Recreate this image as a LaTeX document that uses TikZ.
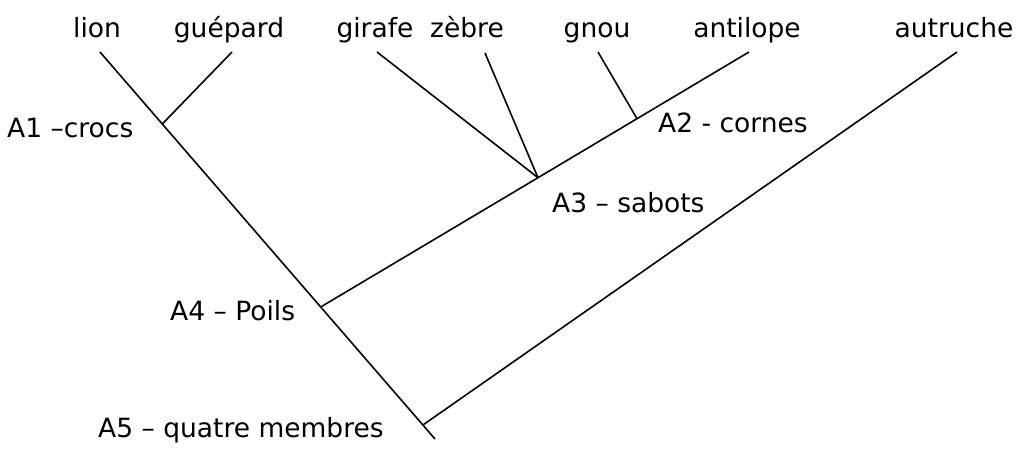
\documentclass[tikz,border=0pt]{standalone}
\usepackage{fontspec}
\setmainfont{DejaVu Sans}
\tikzset{
  taxon/.style={anchor=base, inner sep=0pt, font=\fontsize{26.5}{30}\selectfont},
  trait/.style={anchor=base west, inner sep=0pt, font=\fontsize{26.5}{30}\selectfont},
  branch/.style={line width=1.6pt}
}
\begin{document}
\begin{tikzpicture}[x=1pt,y=-1pt]
\useasboundingbox (0,0) rectangle (1034,448);
% taxa
\node[taxon] (lion) at (97,37){lion};
\node[taxon] (guepard) at (229,37){guépard};
\node[taxon] (girafe) at (375,37){girafe};
\node[taxon] (zebre) at (467,37){zèbre};
\node[taxon] (gnou) at (597,37){gnou};
\node[taxon] (antilope) at (747,37){antilope};
\node[taxon] (autruche) at (954,37){autruche};
% tips
\coordinate (tlion) at (100,52);
\coordinate (tguepard) at (232,52);
\coordinate (tgirafe) at (377,52);
\coordinate (tzebre) at (485,53);
\coordinate (tgnou) at (598,52);
\coordinate (tantilope) at (749,52);
\coordinate (tautruche) at (957,52);
\coordinate (troot) at (435,439);
% junctions
\coordinate (A1) at (162.3,124);
\coordinate (A2) at (637,118.7);
\coordinate (A3) at (538,177.7);
\coordinate (A4) at (320.7,307);
\coordinate (A5) at (422.9,425);
% traits
\node[trait] (lA1) at (7,137){A1 –crocs};
\node[trait] (lA2) at (658,132){A2 - cornes};
\node[trait] (lA3) at (552,212){A3 – sabots};
\node[trait] (lA4) at (170,320){A4 – Poils};
\node[trait] (lA5) at (98,437){A5 – quatre membres};
% branches
\draw[branch](tlion) -- (A1) -- (A4) -- (A5) -- (troot);
\draw[branch](A1) -- (tguepard);
\draw[branch](A4) -- (A3) -- (A2) -- (tantilope);
\draw[branch](A3) -- (tgirafe);
\draw[branch](A3) -- (tzebre);
\draw[branch](A2) -- (tgnou);
\draw[branch](A5) -- (tautruche);
\end{tikzpicture}
\end{document}
